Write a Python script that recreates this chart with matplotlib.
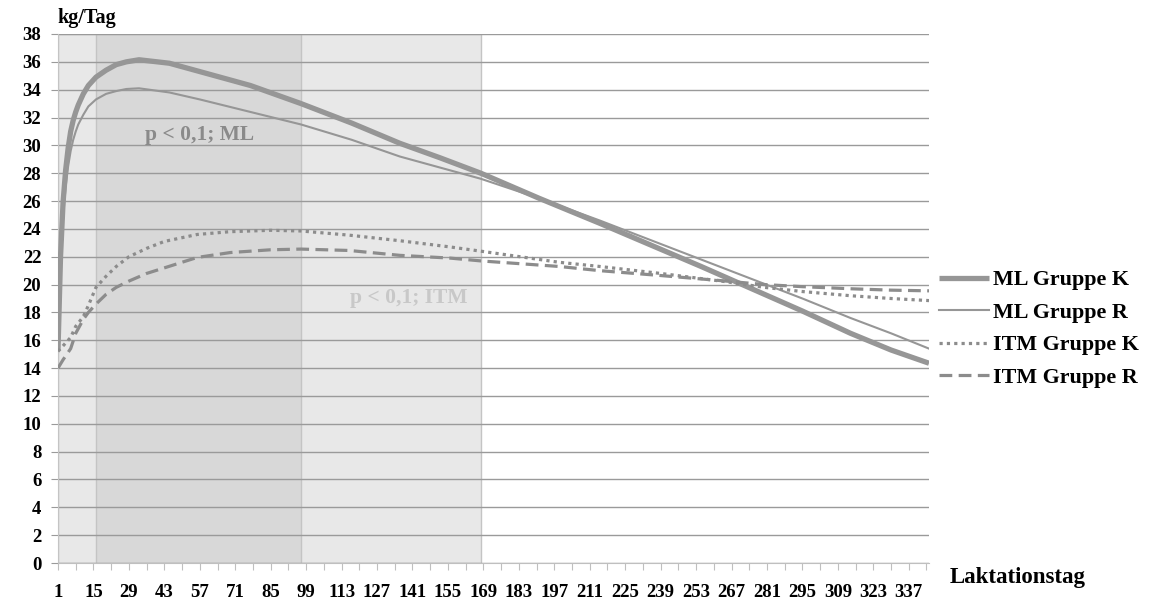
import matplotlib
matplotlib.use("Agg")
import matplotlib.pyplot as plt

plt.rcParams['font.family'] = ['Liberation Serif', 'DejaVu Serif']
plt.rcParams['font.weight'] = 'bold'

# Milchleistung (kg/Tag) je Laktationstag
ml_days = [1, 2, 3, 4, 5, 6, 7, 8, 9, 11, 13, 16, 20, 24, 28, 33, 45, 57, 77,
           97, 117, 136, 152, 168, 191, 215, 235, 255, 275, 295, 314, 330, 345]
ml_k = [15.3, 22.0, 25.9, 28.2, 29.8, 31.0, 31.8, 32.4, 32.9, 33.7, 34.3, 34.9,
        35.4, 35.8, 36.0, 36.15, 35.9, 35.3, 34.3, 33.0, 31.6, 30.15, 29.1, 28.0,
        26.2, 24.4, 22.85, 21.3, 19.7, 18.1, 16.5, 15.3, 14.35]
ml_r = [15.3, 21.0, 24.8, 27.0, 28.5, 29.6, 30.4, 31.0, 31.5, 32.2, 32.8, 33.3,
        33.7, 33.9, 34.05, 34.1, 33.8, 33.3, 32.4, 31.5, 30.4, 29.2, 28.4, 27.6,
        26.2, 24.6, 23.2, 21.8, 20.4, 19.0, 17.6, 16.5, 15.4]

itm_days = [1, 3, 6, 8, 11, 13, 16, 20, 24, 29, 36, 43, 56, 69, 85, 97, 116, 136,
            156, 168, 199, 215, 239, 265, 280, 295, 314, 330, 345]
itm_k = [15.2, 15.6, 16.2, 17.0, 17.7, 18.5, 19.8, 20.6, 21.3, 22.0, 22.6, 23.1,
         23.6, 23.8, 23.9, 23.85, 23.55, 23.15, 22.7, 22.4, 21.6, 21.3, 20.8, 20.2,
         19.8, 19.5, 19.2, 19.0, 18.85]
itm_r = [14.0, 14.6, 15.4, 16.5, 17.5, 18.0, 18.6, 19.3, 19.8, 20.25, 20.8, 21.2,
         21.95, 22.3, 22.5, 22.55, 22.45, 22.1, 21.9, 21.7, 21.3, 21.0, 20.65, 20.25,
         20.0, 19.85, 19.7, 19.6, 19.55]

# signifikante Bereiche
ml_range = (16, 97)
itm_range = (1, 168)

fig = plt.figure(figsize=(11.52, 6.01), dpi=100)
ax = fig.add_axes([58 / 1152, 1 - 563 / 601, (929 - 58) / 1152, (563 - 34) / 601])

ax.axvspan(*itm_range, facecolor='#e8e8e8', edgecolor='#c4c4c4', lw=1, zorder=0)
ax.axvspan(*ml_range, facecolor='#d8d8d8', edgecolor='#c4c4c4', lw=1, zorder=0)

lc = '#969696'
ax.plot(ml_days, ml_k, color=lc, lw=3.8, label='ML Gruppe K', zorder=3,
        solid_capstyle='butt')
ax.plot(ml_days, ml_r, color=lc, lw=1.5, label='ML Gruppe R', zorder=3)
ax.plot(itm_days, itm_k, color='#8c8c8c', lw=2.3, ls=(0, (1, 1.3)),
        label='ITM Gruppe K', zorder=3)
ax.plot(itm_days, itm_r, color='#8c8c8c', lw=2.3, ls=(0, (4, 2)),
        label='ITM Gruppe R', zorder=3)

ax.text(57, 30.75, 'p < 0,1; ML', color='#8a8a8a', fontsize=15.5,
        ha='center', va='center', fontweight='bold')
ax.text(139.5, 19.0, 'p < 0,1; ITM', color='#c8c8c8', fontsize=15.5,
        ha='center', va='center', fontweight='bold')

ax.set_xlim(1, 345)
ax.set_ylim(0, 38)
ax.set_yticks(range(0, 39, 2))
xt = list(range(1, 346, 7))
ax.set_xticks(xt)
ax.set_xticklabels([str(d) if (d - 1) % 14 == 0 else '' for d in xt])
ax.grid(axis='y', color='#9a9a9a', lw=1)
ax.set_axisbelow(True)
ax.tick_params(axis='y', length=5, color='#9a9a9a', pad=7, labelsize=13.5)
ax.tick_params(axis='x', length=5, color='#bfbfbf', pad=10, labelsize=13.5)
for s in ['top', 'right']:
    ax.spines[s].set_visible(False)
ax.spines['left'].set_color('#c4c4c4')
ax.spines['bottom'].set_color('#bfbfbf')

fig.text(57 / 1152, 1 - 18 / 601, 'kg/Tag', fontsize=14.5, fontweight='bold',
         ha='left', va='center')
fig.text(950 / 1152, 1 - 577 / 601, 'Laktationstag', fontsize=16.5,
         fontweight='bold', ha='left', va='center')

fig.legend(loc='upper left', bbox_to_anchor=(939 / 1152, 1 - 270 / 601),
           frameon=False, fontsize=15.8, handlelength=2.3, handletextpad=0.15,
           labelspacing=0.55, borderpad=0, borderaxespad=0)

fig.savefig('out.png', dpi=100)
